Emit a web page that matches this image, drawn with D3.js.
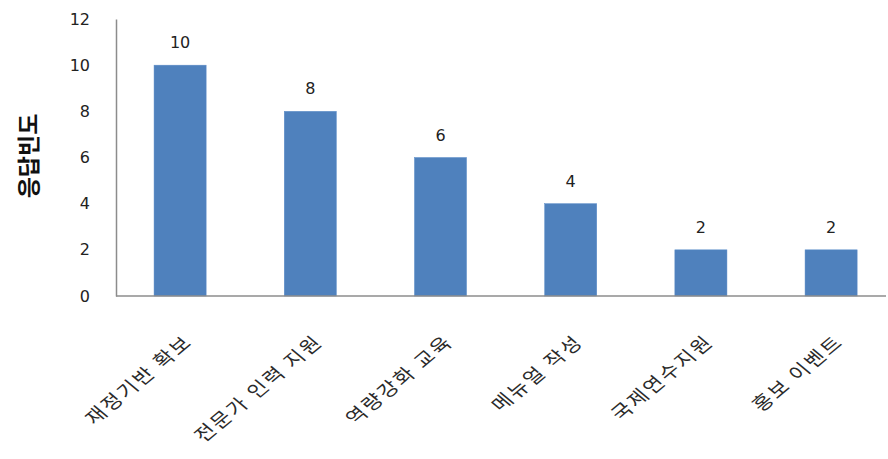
<!DOCTYPE html>
<html>
<head>
<meta charset="utf-8">
<script src="https://cdn.jsdelivr.net/npm/d3@7"></script>
<style>
  body { margin: 0; background: #fff; }
</style>
</head>
<body>
<div id="chart"></div>
<script>
const categories = ['재정기반 확보', '전문가 인력 지원', '역량강화 교육', '메뉴얼 작성', '국제연수지원', '홍보 이벤트'];
const values = [10, 8, 6, 4, 2, 2];
const yTicks = [0, 2, 4, 6, 8, 10, 12];
const yTitle = '응답빈도';

const width = 888, height = 459;
const plotLeft = 116, plotTop = 19, plotBottom = 296;

const svg = d3.select('#chart').append('svg')
        .attr('width', width)
        .attr('height', height);

const x = d3.scaleBand()
        .domain(categories)
        .range([plotLeft - 1, plotLeft - 1 + 6 * 130.2])
        .paddingInner(0.6)
        .paddingOuter(0.3);

const y = d3.scaleLinear()
        .domain([0, 12])
        .range([plotBottom, plotTop]);

// bars
svg.append('g').selectAll('rect')
        .data(values)
        .enter()
        .append('rect')
        .attr('x', (d, i) => x(categories[i]))
        .attr('y', d => y(d))
        .attr('width', x.bandwidth())
        .attr('height', d => y(0) - y(d))
        .attr('fill', '#4f81bd')
        .attr('stroke', '#5b8cc8')
        .attr('stroke-width', 0.5);

// value labels
svg.append('g').selectAll('text')
        .data(values)
        .enter()
        .append('text')
        .attr('x', (d, i) => x(categories[i]) + x.bandwidth() / 2)
        .attr('y', d => y(d) - 17)
        .attr('text-anchor', 'middle')
        .style('font-family', "'DejaVu Sans', Verdana, sans-serif")
        .style('font-size', '16px')
        .style('fill', '#222')
        .text(d => d);

// y axis
const yAxis = svg.append('g')
        .attr('transform', 'translate(' + plotLeft + ',0)')
        .call(d3.axisLeft(y).tickValues(yTicks).tickSize(0).tickPadding(26));
yAxis.select('.domain').attr('stroke', '#8c8c8c').attr('stroke-width', 1.5);
yAxis.selectAll('text')
        .style('font-family', "'DejaVu Sans', Verdana, sans-serif")
        .style('font-size', '16px')
        .style('fill', '#222');

// x axis
const xAxis = svg.append('g')
        .attr('transform', 'translate(0,' + plotBottom + ')')
        .call(d3.axisBottom(x).tickSize(0).tickPadding(0));
xAxis.select('.domain').remove();
svg.append('line')
        .attr('x1', plotLeft).attr('x2', 886)
        .attr('y1', plotBottom).attr('y2', plotBottom)
        .attr('stroke', '#8c8c8c')
        .attr('stroke-width', 1.5);
// labels look stretched sideways in the source, so scale x a bit before rotating
xAxis.selectAll('text')
        .attr('text-anchor', 'end')
        .attr('dy', 0)
        .attr('transform', 'translate(14,47) scale(1.2,1) rotate(-45)')
        .style('font-family', "'Noto Sans CJK KR', sans-serif")
        .style('font-size', '18px')
        .style('letter-spacing', '2px')
        .style('fill', '#2a2a2a');

// y title
svg.append('text')
        .attr('transform', 'translate(37,156) rotate(-90)')
        .attr('text-anchor', 'middle')
        .style('font-family', "'Noto Sans CJK KR', sans-serif")
        .style('font-size', '23px')
        .style('font-weight', 'bold')
        .style('fill', '#111')
        .text(yTitle);
</script>
</body>
</html>
